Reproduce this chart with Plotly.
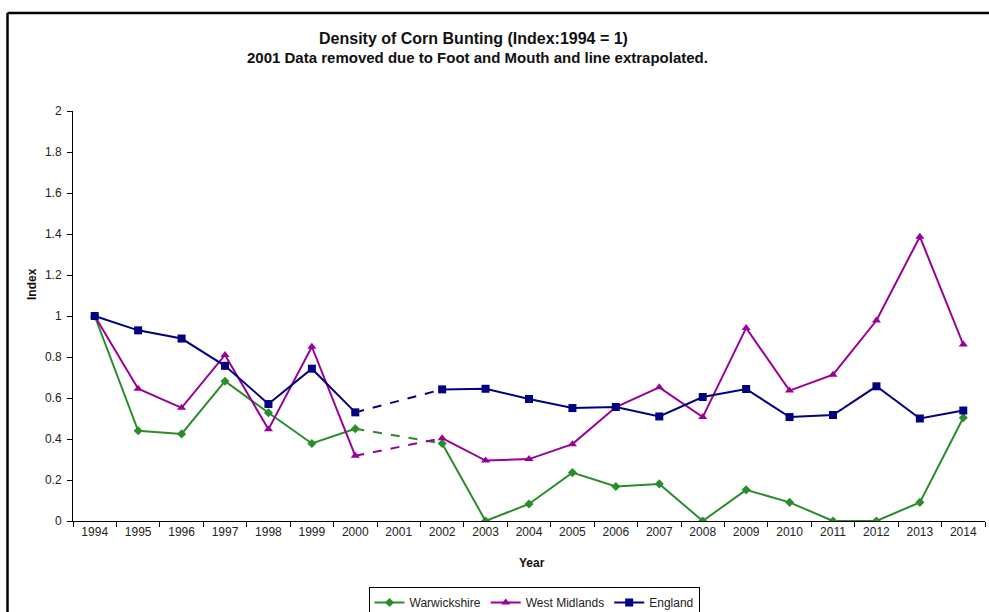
import plotly.graph_objects as go

years = [str(y) for y in range(1994, 2015)]

warwickshire = [1.0, 0.44, 0.425, 0.682, 0.528, 0.378, 0.45, None, 0.378, 0.0, 0.083,
                0.236, 0.168, 0.181, 0.0, 0.152, 0.091, 0.0, 0.0, 0.091, 0.504]
west_midlands = [1.0, 0.645, 0.552, 0.81, 0.447, 0.85, 0.318, None, 0.404, 0.295, 0.302,
                 0.375, 0.556, 0.652, 0.507, 0.942, 0.636, 0.714, 0.978, 1.387, 0.861]
england = [1.0, 0.93, 0.89, 0.757, 0.571, 0.743, 0.53, None, 0.642, 0.645, 0.595,
           0.551, 0.556, 0.51, 0.605, 0.644, 0.507, 0.517, 0.657, 0.5, 0.539]

y_ticks = [0, 0.2, 0.4, 0.6, 0.8, 1, 1.2, 1.4, 1.6, 1.8, 2]
y_tick_text = ["0", "0.2", "0.4", "0.6", "0.8", "1", "1.2", "1.4", "1.6", "1.8", "2"]

series = [
    ("Warwickshire", warwickshire, "#2B8C2B", "diamond", 7),
    ("West Midlands", west_midlands, "#990099", "triangle-up", 8),
    ("England", england, "#000080", "square", 8),
]

W, H = 989, 612
L, R, T, B = 73, 4, 111, 91
pw, ph = W - L - R, H - T - B


def px_x(x):
    return (x - L) / pw


def px_y(y):
    return (H - B - y) / ph


fig = go.Figure()
for name, vals, col, sym, sz in series:
    fig.add_trace(go.Scatter(
        x=years, y=vals, name=name, mode="lines+markers",
        line=dict(color=col, width=2),
        marker=dict(symbol=sym, size=sz, color=col),
        connectgaps=False,
    ))
for name, vals, col, sym, sz in series:
    i0, i1 = years.index("2000"), years.index("2002")
    fig.add_trace(go.Scatter(
        x=[years[i0], years[i1]], y=[vals[i0], vals[i1]],
        mode="lines", line=dict(color=col, width=2, dash="dash"),
        showlegend=False, hoverinfo="skip",
    ))

font = "Liberation Sans, Arial, sans-serif"

fig.update_layout(
    width=W, height=H,
    margin=dict(l=L, r=R, t=T, b=B, autoexpand=False),
    paper_bgcolor="white", plot_bgcolor="white",
    font=dict(family=font, size=12, color="#222222"),
    showlegend=True,
    legend=dict(
        orientation="h", x=px_x(534), xanchor="center", y=px_y(587), yanchor="top",
        bordercolor="#000000", borderwidth=1, font=dict(size=12, color="#222222"),
        itemwidth=30, tracegroupgap=0,
    ),
    xaxis=dict(
        type="category", categoryorder="array", categoryarray=years,
        range=[-0.5, len(years) - 0.5],
        showline=True, linecolor="#000000", linewidth=1,
        ticks="outside", ticklen=5, tickcolor="#000000", tickson="boundaries",
        showgrid=False, zeroline=False,
        tickfont=dict(size=12, color="#222222"),
    ),
    yaxis=dict(
        range=[0, 2], tickvals=y_ticks, ticktext=y_tick_text,
        showline=True, linecolor="#000000", linewidth=1,
        ticks="outside", ticklen=5, tickcolor="#000000", ticklabelstandoff=3,
        showgrid=False, zeroline=False,
        tickfont=dict(size=12, color="#222222"),
    ),
    annotations=[
        dict(text="<b>Density of Corn Bunting (Index:1994 = 1)</b>", x=px_x(473), y=px_y(38),
             xref="paper", yref="paper", showarrow=False, xanchor="center", yanchor="middle",
             font=dict(size=16, color="#111111")),
        dict(text="<b>2001 Data removed due to Foot and Mouth and line extrapolated.</b>",
             x=px_x(477), y=px_y(57), xref="paper", yref="paper", showarrow=False,
             xanchor="center", yanchor="middle", font=dict(size=15, color="#111111")),
        dict(text="<b>Year</b>", x=px_x(532), y=px_y(563), xref="paper", yref="paper",
             showarrow=False, xanchor="center", yanchor="middle",
             font=dict(size=12, color="#111111")),
        dict(text="<b>Index</b>", x=px_x(32), y=px_y(284), xref="paper", yref="paper",
             showarrow=False, textangle=-90, xanchor="center", yanchor="middle",
             font=dict(size=12, color="#111111")),
    ],
    shapes=[
        dict(type="line", xref="paper", yref="paper", x0=px_x(7.5), x1=px_x(W + 2),
             y0=px_y(13), y1=px_y(13), line=dict(color="#000000", width=2.5)),
        dict(type="line", xref="paper", yref="paper", x0=px_x(7.5), x1=px_x(7.5),
             y0=px_y(13), y1=px_y(H + 2), line=dict(color="#000000", width=2.5)),
    ],
)

fig.write_html("out.html")
